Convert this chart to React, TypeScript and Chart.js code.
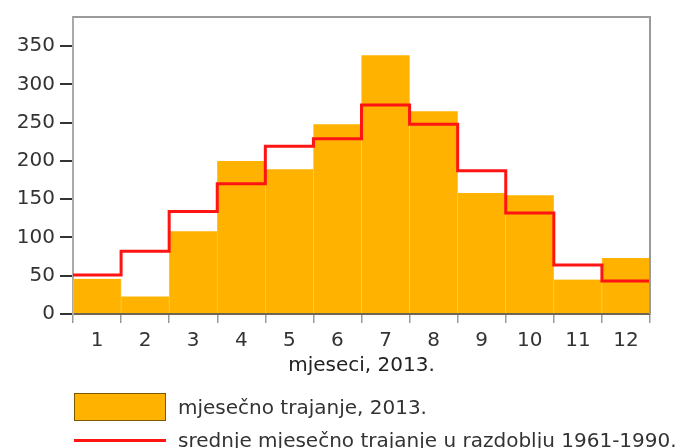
import React, { useEffect, useRef } from 'react';
import { Chart, registerables } from 'chart.js';

Chart.register(...registerables);

const months = ['1', '2', '3', '4', '5', '6', '7', '8', '9', '10', '11', '12'];
const sunshine2013 = [46, 23, 108, 200, 189, 248, 338, 265, 158, 155, 45, 73];
const mean19611990 = [51, 82, 134, 170, 219, 229, 273, 248, 187, 132, 64, 43];
const yTickValues = [0, 50, 100, 150, 200, 250, 300, 350];
const yMax = 388;

const barLabel = 'mjesečno trajanje, 2013.';
const lineLabel = 'srednje mjesečno trajanje u razdoblju 1961-1990.';
const xTitle = 'mjeseci, 2013.';

const FONT = 'DejaVu Sans';
const FS = 20;

const framePlugin = {
  id: 'frame',
  afterDraw(chart: any) {
    const { ctx, chartArea } = chart;
    ctx.save();
    ctx.strokeStyle = '#9a9a9a';
    ctx.lineWidth = 2;
    ctx.beginPath();
    ctx.moveTo(chartArea.left, chartArea.top);
    ctx.lineTo(chartArea.right, chartArea.top);
    ctx.lineTo(chartArea.right, chartArea.bottom);
    ctx.stroke();
    ctx.restore();
  },
};

export default function App() {
  const ref = useRef<HTMLCanvasElement | null>(null);

  useEffect(() => {
    if (!ref.current) return;
    const stepPoints = mean19611990
      .map((v, i) => ({ x: i, y: v }))
      .concat([{ x: months.length, y: mean19611990[mean19611990.length - 1] }]);

    const chart = new Chart(ref.current, {
      type: 'bar',
      data: {
        labels: months,
        datasets: [
          {
            type: 'line',
            label: lineLabel,
            data: stepPoints as any,
            xAxisID: 'x2',
            stepped: 'before',
            borderColor: '#ff1414',
            borderWidth: 3,
            pointRadius: 0,
            fill: false,
            order: 0,
          } as any,
          {
            type: 'bar',
            label: barLabel,
            data: sunshine2013,
            xAxisID: 'x',
            grouped: false,
            backgroundColor: '#ffb300',
            borderColor: '#ffd550',
            borderWidth: { left: 0.6, right: 0.6, top: 0, bottom: 0 },
            borderSkipped: false,
            barPercentage: 1,
            categoryPercentage: 1,
            order: 1,
          } as any,
        ],
      },
      options: {
        animation: false,
        responsive: true,
        maintainAspectRatio: false,
        events: [],
        layout: { padding: { top: 14, right: 41, bottom: 66, left: 0 } },
        plugins: {
          legend: { display: false },
          tooltip: { enabled: false },
        },
        scales: {
          x: {
            type: 'category',
            offset: true,
            z: 1,
            grid: {
              offset: true,
              drawOnChartArea: false,
              drawTicks: true,
              tickLength: 9,
              color: '#999',
              lineWidth: 1.5,
            },
            border: { display: true, color: '#6e6650', width: 2 },
            ticks: {
              color: '#333',
              font: { family: FONT, size: FS },
              padding: 6,
              maxRotation: 0,
              autoSkip: false,
            },
            title: {
              display: true,
              text: xTitle,
              color: '#222',
              font: { family: FONT, size: FS },
              padding: { top: 0, bottom: 4 },
            },
            afterFit: (s: any) => {
              s.height = 68;
            },
          },
          x2: {
            type: 'linear',
            min: 0,
            max: months.length,
            offset: false,
            grid: { offset: false },
            display: false,
          },
          y: {
            min: 0,
            max: yMax,
            z: 1,
            grid: {
              drawOnChartArea: false,
              drawTicks: true,
              tickLength: 13,
              color: '#333',
              lineWidth: 2,
            },
            border: { display: true, color: '#aaa', width: 2 },
            ticks: {
              stepSize: 50,
              color: '#333',
              font: { family: FONT, size: FS },
              padding: 5,
            },
            afterBuildTicks: (s: any) => {
              s.ticks = yTickValues.map((v) => ({ value: v }));
            },
            afterFit: (s: any) => {
              s.width = 73;
            },
          },
        },
      } as any,
      plugins: [framePlugin],
    });
    return () => chart.destroy();
  }, []);

  const textStyle: React.CSSProperties = {
    position: 'absolute',
    left: 178,
    fontFamily: FONT,
    fontSize: FS,
    color: '#333',
    lineHeight: '28px',
    height: 28,
    whiteSpace: 'nowrap',
  };

  return (
    <div
      style={{
        position: 'absolute',
        left: 0,
        top: 0,
        width: 691,
        height: 448,
        overflow: 'hidden',
        background: '#fff',
      }}
    >
      <canvas ref={ref} style={{ position: 'absolute', left: 0, top: 0 }} />
      <div
        style={{
          position: 'absolute',
          left: 74,
          top: 393,
          width: 92,
          height: 28,
          boxSizing: 'border-box',
          background: '#ffb300',
          border: '1.5px solid #7a5a00',
        }}
      />
      <div style={{ ...textStyle, top: 393 }}>{barLabel}</div>
      <div
        style={{
          position: 'absolute',
          left: 74,
          top: 438.5,
          width: 92,
          height: 3,
          background: '#ff1414',
        }}
      />
      <div style={{ ...textStyle, top: 426 }}>{lineLabel}</div>
    </div>
  );
}
